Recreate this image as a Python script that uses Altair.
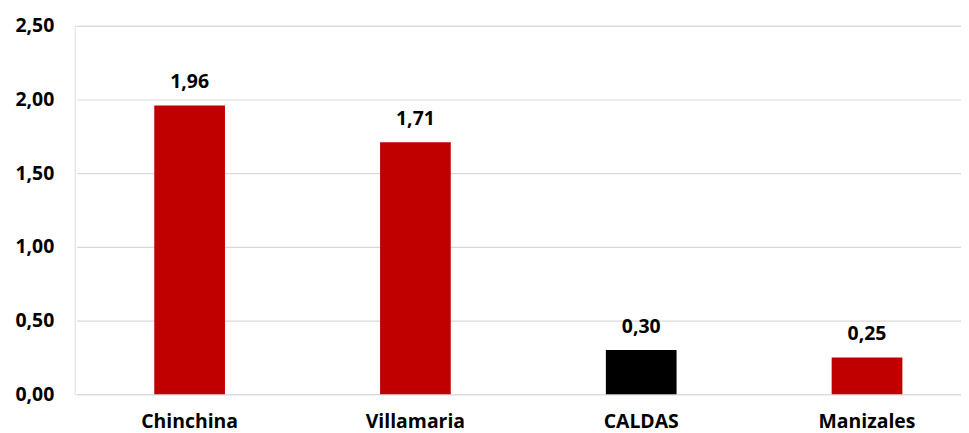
import altair as alt
import pandas as pd

categories = ["Chinchina", "Villamaria", "CALDAS", "Manizales"]
values = [1.96, 1.71, 0.30, 0.25]
colors = ["#C00000", "#C00000", "#000000", "#C00000"]
y_ticks = [0, 0.5, 1.0, 1.5, 2.0, 2.5]

df = pd.DataFrame({"cat": categories, "val": values, "color": colors})

FONT = "Open Sans"
FS = 19.5

x = alt.X("cat:N", sort=categories, title=None,
          scale=alt.Scale(range=[2, 909], paddingInner=0, paddingOuter=0),
          axis=alt.Axis(labelAngle=0, domain=False, ticks=False, labelPadding=18,
                        labelFont=FONT, labelFontSize=FS, labelFontWeight="bold",
                        labelColor="#000000", grid=False))
y = alt.Y("val:Q", title=None,
          scale=alt.Scale(domain=[0, 2.5], nice=False),
          axis=alt.Axis(values=y_ticks, domain=False, ticks=False, labelPadding=21,
                        labelFont=FONT, labelFontSize=FS, labelFontWeight="bold",
                        labelColor="#000000", gridColor="#D9D9D9", gridWidth=1.2,
                        labelExpr="replace(format(datum.value, '.2f'), '.', ',')"))

base = alt.Chart(df).encode(x=x, y=y)

bars = base.mark_bar(size=71).encode(color=alt.Color("color:N", scale=None))
labels = base.transform_calculate(
    lab="replace(format(datum.val, '.2f'), '.', ',')"
).mark_text(dy=-23, baseline="middle", font=FONT, fontSize=FS, fontWeight="bold",
            color="#000000").encode(text="lab:N")

chart = (bars + labels).properties(
    width=890, height=370,
    padding={"left": 67, "top": 17, "right": 0, "bottom": 38},
    autosize=alt.AutoSizeParams(type="none"),
).configure_view(stroke=None).configure(background="#FFFFFF")

chart.save("out.html", embed_options={"renderer": "svg", "actions": False})
